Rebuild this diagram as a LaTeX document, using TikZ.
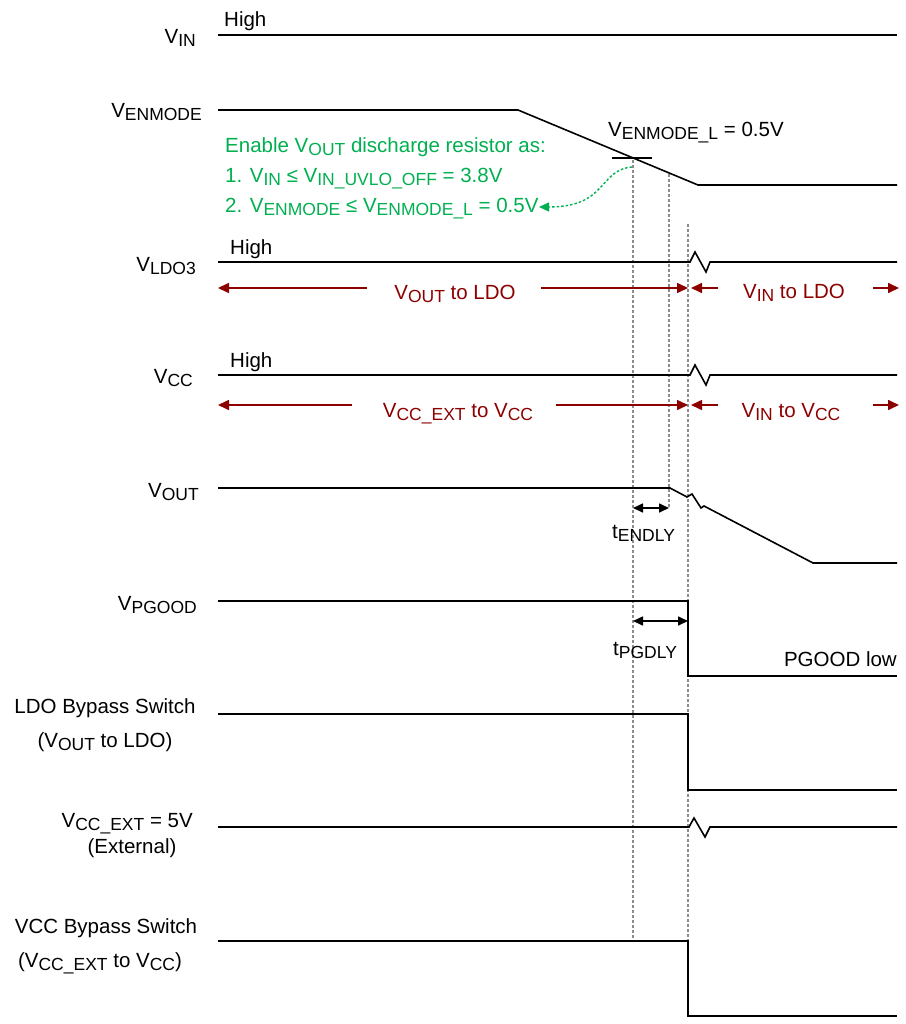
\documentclass[tikz,border=0pt]{standalone}
\usepackage{fontspec}
\setmainfont{Liberation Sans}
\usetikzlibrary{arrows.meta}
\definecolor{dred}{RGB}{140,0,0}
\definecolor{ggreen}{RGB}{0,176,80}
\definecolor{dotgray}{RGB}{140,140,140}
\newcommand\sbx[1]{\raisebox{-3pt}{\fontsize{17.5}{18}\selectfont #1}}
\begin{document}
\begin{tikzpicture}[x=1pt,y=-1pt,
  txt/.style={inner sep=0pt, font=\fontsize{20.5}{24}\selectfont},
  sig/.style={line width=1.6pt, black, line join=miter},
  guide/.style={dotgray, line width=1.2pt, dash pattern=on 3pt off 2pt},
  redarr/.style={dred, line width=1.6pt, -{Triangle[length=11pt,width=10pt]}},
  dimarr/.style={black, line width=1.6pt, {Triangle[length=10pt,width=9pt]}-{Triangle[length=10pt,width=9pt]}},
  greenarr/.style={ggreen, line width=1.4pt, dash pattern=on 2.5pt off 2pt, -{Triangle[length=10pt,width=9pt]}},
]
\useasboundingbox (0,0) rectangle (905,1024);

% guide lines
\coordinate (g1t) at (633,160); \coordinate (g1b) at (633,941);
\coordinate (g2t) at (669,174); \coordinate (g2b) at (669,508);
\coordinate (g3t) at (688,224); \coordinate (g3b) at (688,941);
\draw[guide] (g1t) -- (g1b);
\draw[guide] (g2t) -- (g2b);
\draw[guide] (g3t) -- (g3b);

% signals
\draw[sig] (218,35) -- (897,35);
\draw[sig] (218,110) -- (518,110) -- (698,185) -- (897,185);
\draw[sig] (612,158) -- (652,158);
\draw[sig] (218,262) -- (690,262) -- (695,252) -- (706,272) -- (710,262) -- (897,262);
\draw[sig] (218,375) -- (690,375) -- (695,365) -- (706,385) -- (710,375) -- (897,375);
\draw[sig] (218,488) -- (670,488) -- (687,497) -- (692,494) -- (701,508) -- (704,506) -- (813,563) -- (897,563);
\draw[sig] (218,601) -- (688,601) -- (688,676) -- (897,676);
\draw[sig] (218,714) -- (688,714) -- (688,790) -- (897,790);
\draw[sig] (218,827) -- (689,827) -- (694,818) -- (705,837) -- (710,827) -- (897,827);
\draw[sig] (218,941) -- (688,941) -- (688,1016) -- (897,1016);

% left labels
\node[txt, anchor=base east] (lvin) at (196,44) {V\sbx{IN}};
\node[txt, anchor=base east] (lenm) at (202,118) {V\sbx{ENMODE}};
\node[txt, anchor=base east] (lldo) at (196,271) {V\sbx{LDO3}};
\node[txt, anchor=base east] (lvcc) at (193,383) {V\sbx{CC}};
\node[txt, anchor=base east] (lvout) at (199,497) {V\sbx{OUT}};
\node[txt, anchor=base east] (lpg) at (197,610) {V\sbx{PGOOD}};
\node[txt, anchor=base] (lldob1) at (105,713) {LDO Bypass Switch};
\node[txt, anchor=base] (lldob2) at (105,747) {(V\sbx{OUT} to LDO)};
\node[txt, anchor=base east] (lext1) at (193,827) {V\sbx{CC\_EXT} = 5V};
\node[txt, anchor=base] (lext2) at (132,853) {(External)};
\node[txt, anchor=base] (lvccb1) at (106,933) {VCC Bypass Switch};
\node[txt, anchor=base] (lvccb2) at (100,967) {(V\sbx{CC\_EXT} to V\sbx{CC})};

% High labels
\node[txt, anchor=base west] (h1) at (224,27) {High};
\node[txt, anchor=base west] (h2) at (230,254) {High};
\node[txt, anchor=base west] (h3) at (230,367) {High};

% green note
\node[txt, ggreen, anchor=base west] (gn1) at (225,153) {Enable V\sbx{OUT} discharge resistor as:};
\node[txt, ggreen, anchor=base west] (gn2) at (225,183) {1. V\sbx{IN} ≤ V\sbx{IN\_UVLO\_OFF} = 3.8V};
\node[txt, ggreen, anchor=base west] (gn3) at (225,213) {2. V\sbx{ENMODE} ≤ V\sbx{ENMODE\_L} = 0.5V};
\coordinate (gs) at (632,167);
\coordinate (ge) at (539,207);
\draw[greenarr] (gs) .. controls (598,170) and (608,207) .. (ge);

\node[txt, anchor=base west] (enl) at (608,137) {V\sbx{ENMODE\_L} = 0.5V};

% red arrow rows
\coordinate (r1a) at (367,288); \coordinate (r1b) at (218,288);
\coordinate (r1c) at (541,288); \coordinate (r1d) at (688,288);
\coordinate (r1e) at (718,288); \coordinate (r1f) at (691,288);
\coordinate (r1g) at (873,288); \coordinate (r1h) at (899,288);
\draw[redarr] (r1a) -- (r1b);
\draw[redarr] (r1c) -- (r1d);
\draw[redarr] (r1e) -- (r1f);
\draw[redarr] (r1g) -- (r1h);
\node[txt, dred, anchor=base] (t1) at (455,299) {V\sbx{OUT} to LDO};
\node[txt, dred, anchor=base] (t2) at (794,298) {V\sbx{IN} to LDO};

\coordinate (r2a) at (352,405); \coordinate (r2b) at (218,405);
\coordinate (r2c) at (556,405); \coordinate (r2d) at (688,405);
\coordinate (r2e) at (718,405); \coordinate (r2f) at (691,405);
\coordinate (r2g) at (873,405); \coordinate (r2h) at (899,405);
\draw[redarr] (r2a) -- (r2b);
\draw[redarr] (r2c) -- (r2d);
\draw[redarr] (r2e) -- (r2f);
\draw[redarr] (r2g) -- (r2h);
\node[txt, dred, anchor=base] (t3) at (458,417) {V\sbx{CC\_EXT} to V\sbx{CC}};
\node[txt, dred, anchor=base] (t4) at (791,417) {V\sbx{IN} to V\sbx{CC}};

% delays
\coordinate (d1a) at (633,508); \coordinate (d1b) at (669,508);
\draw[dimarr] (d1a) -- (d1b);
\node[txt, anchor=base west] (tend) at (612,538) {t\sbx{ENDLY}};
\coordinate (d2a) at (633,621); \coordinate (d2b) at (688,621);
\draw[dimarr] (d2a) -- (d2b);
\node[txt, anchor=base west] (tpg) at (613,655) {t\sbx{PGDLY}};

\node[txt, anchor=base east] (pgl) at (897,666) {PGOOD low};
\end{tikzpicture}
\end{document}
